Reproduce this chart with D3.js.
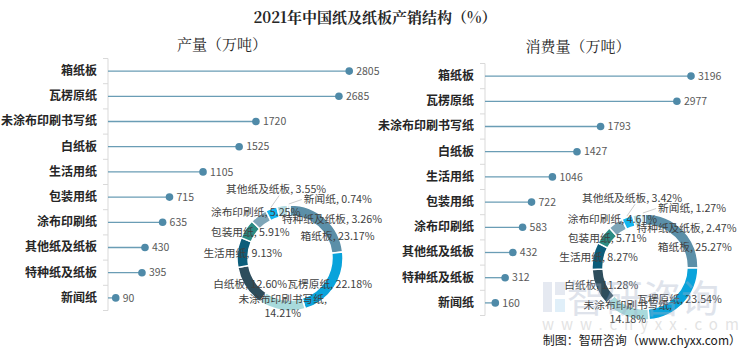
<!DOCTYPE html>
<html>
<head>
<meta charset="utf-8">
<script src="https://cdn.jsdelivr.net/npm/d3@7"></script>
<style>
  body { margin: 0; background: #fff; }
  text { font-family: 'Noto Sans CJK SC', 'Noto Sans', sans-serif; }
</style>
</head>
<body>
<div id="chart"></div>
<script>
const categories = ['箱纸板', '瓦楞原纸', '未涂布印刷书写纸', '白纸板', '生活用纸', '包装用纸', '涂布印刷纸', '其他纸及纸板', '特种纸及纸板', '新闻纸'];
const production = [2805, 2685, 1720, 1525, 1105, 715, 635, 430, 395, 90];
const consumption = [3196, 2977, 1793, 1427, 1046, 722, 583, 432, 312, 160];
const prodPercent = [23.17, 22.18, 14.21, 12.60, 9.13, 5.91, 5.25, 3.55, 3.26, 0.74];
const consPercent = [25.27, 23.54, 14.18, 11.28, 8.27, 5.71, 4.61, 3.42, 2.47, 1.27];
const sliceColors = ['#5b8fa8', '#09a3db', '#a8dadc', '#2e4d5c', '#0c5d7a', '#2b8b83', '#7ea5b7', '#12b5ef', '#b6dde3', '#d3e8ec'];

const width = 750, height = 352;
const svg = d3.select('#chart').append('svg')
  .attr('width', width)
  .attr('height', height);

// Titles
svg.append('text')
  .attr('x', 375).attr('y', 23)
  .attr('text-anchor', 'middle')
  .style('font-family', "'Noto Serif CJK SC', 'Noto Sans CJK SC', serif")
  .style('font-size', '15px').style('font-weight', 'bold')
  .attr('fill', '#262626')
  .text('2021年中国纸及纸板产销结构（%）');

const color = d3.scaleOrdinal().domain(categories).range(sliceColors);
const labelShift = {
  '箱纸板': [16, 14],
  '涂布印刷纸': [-6, -8],
  '其他纸及纸板': [3, -24],
  '特种纸及纸板': [49, 8],
  '新闻纸': [49, -11],
};

const drawPanel = ({ values, percents, title, titleX, titleY, axisX, xMax, xEnd, top, cx, cy }) => {
  const g = svg.append('g');

  g.append('text')
    .attr('x', titleX).attr('y', titleY)
    .attr('text-anchor', 'middle')
    .style('font-family', "'Noto Serif CJK SC', 'Noto Sans CJK SC', serif")
    .style('font-size', '15px')
    .attr('fill', '#262626')
    .text(title);

  // Scales
  const yScale = d3.scaleBand().domain(categories).range([top, top + 252]);
  const xScale = d3.scaleLinear().domain([0, xMax]).range([axisX, xEnd]);

  // Axis
  const yAxisGroup = g.append('g')
    .attr('transform', `translate(${axisX},0)`)
    .call(d3.axisLeft(yScale).tickSize(0).tickPadding(11));
  yAxisGroup.select('.domain').remove();
  yAxisGroup.selectAll('text')
    .style('font-family', "'Noto Sans CJK SC', sans-serif")
    .style('font-size', '12px').style('font-weight', 'bold')
    .attr('fill', '#262626');

  g.append('line')
    .attr('x1', axisX).attr('x2', axisX)
    .attr('y1', yScale.range()[0]).attr('y2', yScale.range()[1])
    .attr('stroke', '#d9d9d9');
  g.selectAll('.tick-mark')
    .data(categories.map(c => yScale(c)).concat([yScale.range()[1]]))
    .enter().append('line')
    .attr('x1', axisX - 5).attr('x2', axisX)
    .attr('y1', d => d).attr('y2', d => d)
    .attr('stroke', '#d9d9d9');

  // Lollipops
  const rows = categories.map((c, i) => ({ c, v: values[i] }));
  const mid = d => yScale(d.c) + yScale.bandwidth() / 2;
  g.selectAll('.stem').data(rows).enter().append('line')
    .attr('x1', axisX).attr('x2', d => xScale(d.v))
    .attr('y1', mid).attr('y2', mid)
    .attr('stroke', '#6a9db5').attr('stroke-width', 1.3);
  g.selectAll('.dot').data(rows).enter().append('circle')
    .attr('cx', d => xScale(d.v)).attr('cy', mid)
    .attr('r', 3.8).attr('fill', '#4f8aa8');
  g.selectAll('.val').data(rows).enter().append('text')
    .attr('x', d => xScale(d.v) + 7).attr('y', mid)
    .attr('dy', '0.36em')
    .style('font-size', '10.5px')
    .attr('fill', '#595959')
    .text(d => d.v);

  // Donut
  const slices = categories.map((c, i) => ({ c, p: percents[i] }));
  const pie = d3.pie().sort(null).value(d => d.p);
  const arc = d3.arc().innerRadius(42).outerRadius(53);
  const labelArc = d3.arc().innerRadius(47.5).outerRadius(47.5);
  const outerArc = d3.arc().innerRadius(54).outerRadius(54);
  const arcs = pie(slices);
  const donut = g.append('g').attr('transform', `translate(${cx},${cy})`);
  donut.selectAll('path').data(arcs).enter().append('path')
    .attr('d', arc)
    .attr('fill', d => color(d.data.c))
    .attr('stroke', '#fff').attr('stroke-width', 1.5);

  arcs.forEach(d => {
    const [px, py] = labelArc.centroid(d);
    const s = labelShift[d.data.c] || [0, 0];
    const lx = px + s[0], ly = py + s[1];
    const pct = d.data.p.toFixed(2) + '%';
    const t = donut.append('text')
      .attr('x', lx).attr('y', ly)
      .attr('text-anchor', 'middle')
      .style('font-size', '10.7px')
      .attr('fill', '#404040');
    if (d.data.c.length > 6) {
      t.append('tspan').attr('x', lx).attr('dy', '-0.2em').text(d.data.c + ',');
      t.append('tspan').attr('x', lx).attr('dy', '1.3em').text(pct);
    } else {
      t.attr('dy', '0.35em').text(`${d.data.c}, ${pct}`);
    }
    // leader lines for the crowded small slices
    if (d.data.c === '其他纸及纸板' || d.data.c === '新闻纸') {
      const [ox, oy] = outerArc.centroid(d);
      const w = t.node().getComputedTextLength();
      const ex = d.data.c === '新闻纸' ? lx - w / 2 - 2 : lx + 3;
      const ey = d.data.c === '新闻纸' ? ly : ly + 6;
      donut.append('polyline')
        .attr('points', `${ox},${oy} ${ex},${ey}`)
        .attr('fill', 'none')
        .attr('stroke', '#bfbfbf').attr('stroke-width', 0.8);
    }
  });
};

drawPanel({
  values: production, percents: prodPercent,
  title: '产量（万吨）', titleX: 222, titleY: 50,
  axisX: 108, xMax: 3000, xEnd: 366, top: 58.5,
  cx: 290, cy: 258,
});
drawPanel({
  values: consumption, percents: consPercent,
  title: '消费量（万吨）', titleX: 578, titleY: 52,
  axisX: 485, xMax: 3500, xEnd: 710.6, top: 63.5,
  cx: 645, cy: 267,
});

// Watermark
const wm = svg.append('g').attr('opacity', 0.35);
wm.append('rect').attr('x', 543).attr('y', 282).attr('width', 9).attr('height', 30).attr('fill', '#b7c3da');
wm.append('rect').attr('x', 555).attr('y', 282).attr('width', 10).attr('height', 13).attr('fill', '#b7c3da');
wm.append('rect').attr('x', 555).attr('y', 299).attr('width', 10).attr('height', 13).attr('fill', '#a9d3ee');
wm.append('text')
  .attr('x', 567).attr('y', 312)
  .style('font-size', '38px')
  .attr('fill', '#a4b0c8')
  .text('智研咨询');
wm.append('text')
  .attr('x', 542).attr('y', 330)
  .style('font-size', '15px')
  .style('letter-spacing', '7px')
  .attr('fill', '#b0b0b0')
  .text('www.chyxx.com');

svg.append('text')
  .attr('x', 741).attr('y', 345)
  .attr('text-anchor', 'end')
  .style('font-size', '12px')
  .attr('fill', '#1a1a1a')
  .text('制图：智研咨询（www.chyxx.com）');
</script>
</body>
</html>
